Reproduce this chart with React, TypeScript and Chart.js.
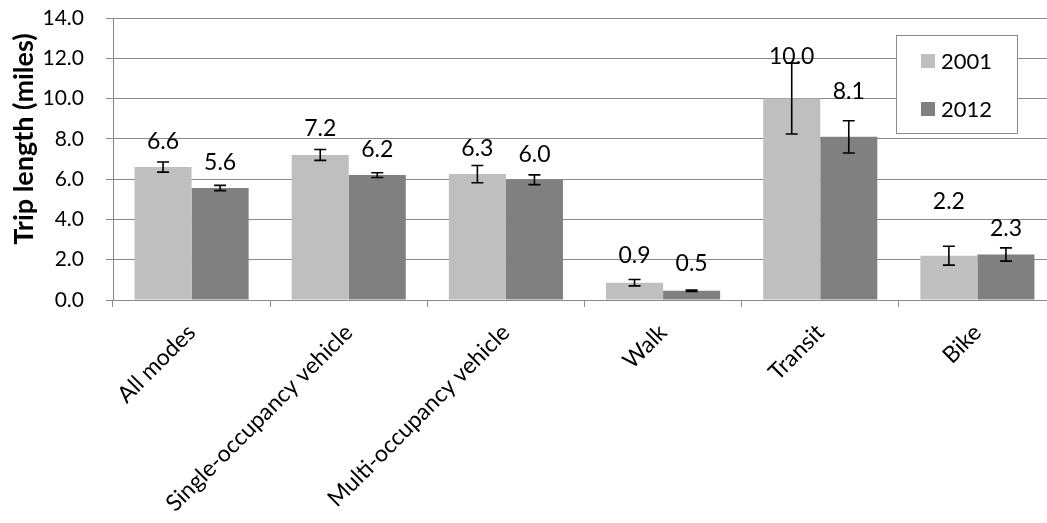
import React, { useEffect, useRef } from "react";
import { Chart, registerables } from "chart.js";

Chart.register(...registerables);

const categories = ["All modes", "Single-occupancy vehicle", "Multi-occupancy vehicle", "Walk", "Transit", "Bike"];
const seriesNames = ["2001", "2012"];
const values2001 = [6.6, 7.2, 6.25, 0.86, 10.0, 2.2];
const values2012 = [5.56, 6.2, 5.97, 0.46, 8.1, 2.26];
const err2001 = [0.25, 0.27, 0.43, 0.16, 1.76, 0.47];
const err2012 = [0.13, 0.12, 0.24, 0.03, 0.8, 0.33];
// data-unit height at which each value label is centred
const labelY2001 = [7.85, 8.52, 7.53, 2.23, 12.08, 4.88];
const labelY2012 = [6.8, 7.48, 7.2, 1.82, 10.34, 3.57];
const yMin = 0;
const yMax = 14;
const yStep = 2;
const yTitle = "Trip length (miles)";

const COLORS = ["#bfbfbf", "#808080"];
const GRID = "#8a8a8a";
const FONT = "Lato, 'Open Sans', sans-serif";

const extrasPlugin = {
  id: "extras",
  afterDatasetsDraw(chart: any) {
    const ctx = chart.ctx;
    const y = chart.scales.y;
    const errs = [err2001, err2012];
    const vals = [values2001, values2012];
    const labYs = [labelY2001, labelY2012];
    ctx.save();
    // error bars
    ctx.strokeStyle = "#000";
    ctx.lineWidth = 1.6;
    for (let d = 0; d < 2; d++) {
      const meta = chart.getDatasetMeta(d);
      meta.data.forEach((el: any, i: number) => {
        const v = vals[d][i];
        const e = errs[d][i];
        const top = y.getPixelForValue(v + e);
        const bot = y.getPixelForValue(v - e);
        const x = el.x;
        ctx.beginPath();
        ctx.moveTo(x, top);
        ctx.lineTo(x, bot);
        ctx.moveTo(x - 6, top);
        ctx.lineTo(x + 6, top);
        ctx.moveTo(x - 6, bot);
        ctx.lineTo(x + 6, bot);
        ctx.stroke();
      });
    }
    // value labels
    ctx.fillStyle = "#000";
    ctx.font = `23px ${FONT}`;
    ctx.textAlign = "center";
    ctx.textBaseline = "middle";
    for (let d = 0; d < 2; d++) {
      const meta = chart.getDatasetMeta(d);
      meta.data.forEach((el: any, i: number) => {
        ctx.fillText(vals[d][i].toFixed(1), el.x, y.getPixelForValue(labYs[d][i]));
      });
    }
    ctx.restore();
  },
  afterDraw(chart: any) {
    const ctx = chart.ctx;
    ctx.save();
    // y axis title
    ctx.translate(24, 139);
    ctx.rotate(-Math.PI / 2);
    ctx.fillStyle = "#000";
    ctx.font = `bold 27px ${FONT}`;
    ctx.textAlign = "center";
    ctx.textBaseline = "middle";
    ctx.fillText(yTitle, 0, 0);
    ctx.restore();

    // legend
    ctx.save();
    const bx = 896.5, by = 35.5, bw = 121, bh = 98;
    ctx.fillStyle = "#fff";
    ctx.fillRect(bx, by, bw, bh);
    ctx.strokeStyle = GRID;
    ctx.lineWidth = 1;
    ctx.strokeRect(bx, by, bw, bh);
    ctx.font = `22px ${FONT}`;
    ctx.textBaseline = "middle";
    ctx.textAlign = "left";
    const rows = [61, 109];
    seriesNames.forEach((name, i) => {
      ctx.fillStyle = COLORS[i];
      ctx.fillRect(921, rows[i] - 7, 14, 14);
      ctx.fillStyle = "#000";
      ctx.fillText(name, 941, rows[i] + 1);
    });
    ctx.restore();
  },
};

export default function App() {
  const ref = useRef<HTMLCanvasElement>(null);
  useEffect(() => {
    if (!ref.current) return;
    const yTicks: number[] = [];
    for (let v = yMin; v <= yMax; v += yStep) yTicks.push(v);
    const chart = new Chart(ref.current, {
      type: "bar",
      data: {
        labels: categories,
        datasets: [
          { label: seriesNames[0], data: values2001, backgroundColor: COLORS[0], borderWidth: 0 },
          { label: seriesNames[1], data: values2012, backgroundColor: COLORS[1], borderWidth: 0 },
        ],
      },
      options: {
        responsive: false,
        animation: false,
        layout: { padding: { top: 18, right: 4, left: 0, bottom: 0 } },
        plugins: { legend: { display: false }, tooltip: { enabled: false } },
        datasets: { bar: { categoryPercentage: 0.726, barPercentage: 1.0 } },
        scales: {
          x: {
            offset: true,
            grid: { display: true, drawOnChartArea: false, drawTicks: true, tickLength: 7, color: GRID, offset: true },
            border: { display: true, color: GRID, width: 1 },
            ticks: {
              color: "#000",
              font: { family: FONT, size: 23 },
              maxRotation: 45,
              minRotation: 45,
              autoSkip: false,
              padding: 12,
            },
            afterFit(scale: any) {
              scale.height = 223;
            },
          },
          y: {
            min: yMin,
            max: yMax,
            afterBuildTicks(scale: any) {
              scale.ticks = yTicks.map((v) => ({ value: v }));
            },
            grid: { color: GRID, drawTicks: true, tickLength: 7, lineWidth: 1 },
            border: { display: true, color: GRID, width: 1 },
            ticks: {
              color: "#000",
              font: { family: FONT, size: 21 },
              padding: 22,
              callback: (v: any) => Number(v).toFixed(1),
            },
            afterFit(scale: any) {
              scale.width = 113;
              scale.paddingTop = 0;
              scale.paddingBottom = 0;
            },
          },
        },
      },
      plugins: [extrasPlugin],
    });
    return () => chart.destroy();
  }, []);
  return (
    <div style={{ position: "fixed", left: 0, top: 0, width: 1047, height: 523, overflow: "hidden", background: "#fff" }}>
      <canvas ref={ref} width={1060} height={523} style={{ width: 1060, height: 523, display: "block" }} />
    </div>
  );
}
